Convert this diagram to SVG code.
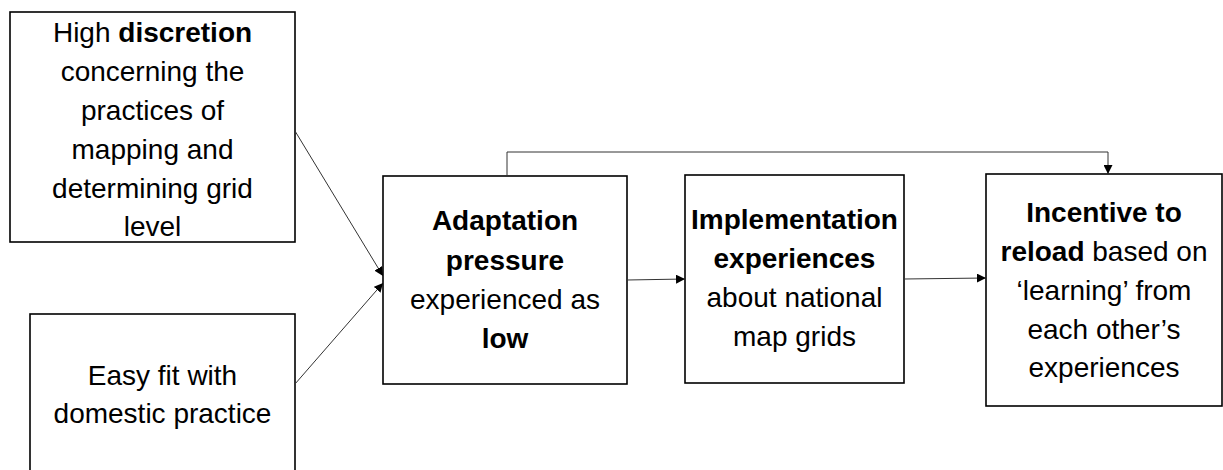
<svg xmlns="http://www.w3.org/2000/svg" width="1223" height="470" viewBox="0 0 1223 470">
<style>
.box{fill:#fff;stroke:#000;stroke-width:1.6}
.t{font-family:"Liberation Sans",Arial,sans-serif;font-size:28px;fill:#000;text-anchor:middle}
.b{font-weight:bold}
.c{fill:none;stroke:#333;stroke-width:1}
</style>
<defs>
<marker id="ah" viewBox="0 0 10 10" refX="10" refY="5" markerWidth="9" markerHeight="9" markerUnits="userSpaceOnUse" orient="auto">
<path d="M0,0 L10,5 L0,10 Z" fill="#000"/>
</marker>
</defs>
<g id="n1">
<rect class="box" x="10" y="12" width="285" height="230"/>
<text class="t" x="152.5" y="42">High <tspan class="b">discretion</tspan></text>
<text class="t" x="152.5" y="81">concerning the</text>
<text class="t" x="152.5" y="120">practices of</text>
<text class="t" x="152.5" y="159">mapping and</text>
<text class="t" x="152.5" y="198">determining grid</text>
<text class="t" x="152.5" y="236">level</text>
</g>
<g id="n2">
<rect class="box" x="30" y="314" width="265" height="170"/>
<text class="t" x="162.5" y="385">Easy fit with</text>
<text class="t" x="162.5" y="423">domestic practice</text>
</g>
<g id="n3">
<rect class="box" x="383" y="176" width="244" height="208"/>
<text class="t b" x="505" y="230">Adaptation</text>
<text class="t b" x="505" y="270">pressure</text>
<text class="t" x="505" y="309">experienced as</text>
<text class="t b" x="505" y="348">low</text>
</g>
<g id="n4">
<rect class="box" x="685" y="175" width="219" height="208"/>
<text class="t b" x="794.5" y="229">Implementation</text>
<text class="t b" x="794.5" y="268">experiences</text>
<text class="t" x="794.5" y="307">about national</text>
<text class="t" x="794.5" y="346">map grids</text>
</g>
<g id="n5">
<rect class="box" x="986" y="174" width="236" height="232"/>
<text class="t b" x="1104" y="222">Incentive to</text>
<text class="t" x="1104" y="261"><tspan class="b">reload</tspan> based on</text>
<text class="t" x="1104" y="300">‘learning’ from</text>
<text class="t" x="1104" y="339">each other’s</text>
<text class="t" x="1104" y="377">experiences</text>
</g>
<g id="connectors">
<line class="c" x1="295" y1="131" x2="383" y2="276" marker-end="url(#ah)"/>
<line class="c" x1="295" y1="384" x2="383" y2="283" marker-end="url(#ah)"/>
<line class="c" x1="627" y1="280" x2="685" y2="279" marker-end="url(#ah)"/>
<line class="c" x1="904" y1="279" x2="986" y2="278" marker-end="url(#ah)"/>
<polyline class="c" points="507,176 507,152 1108,152 1108,174" marker-end="url(#ah)"/>
</g>
</svg>
